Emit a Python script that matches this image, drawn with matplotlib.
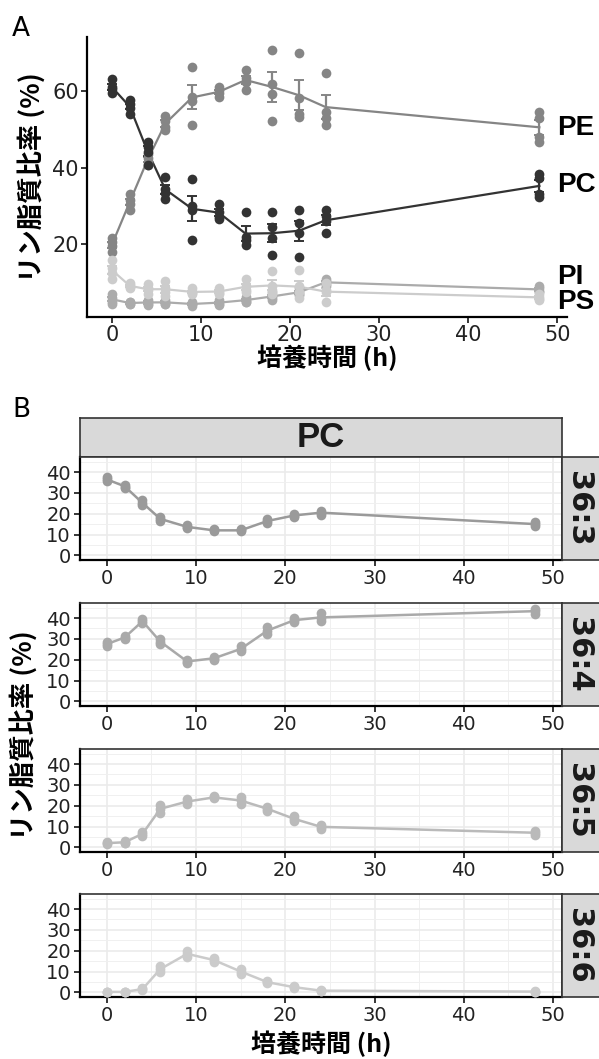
import numpy as np
import matplotlib.pyplot as plt
from matplotlib.ticker import MultipleLocator

# figure size in pixels (dpi = 100)
W, H = 599, 1059

# sampling times (h)
hours = [0, 2, 4, 6, 9, 12, 15, 18, 21, 24, 48]

# Panel A: phospholipid ratio (%), 4 replicates per time point
pe_vals = [[21.5, 20.5, 19.5, 18.0], [33.2, 31.5, 30.5, 28.9], [43.5, 42.5, 41.5, 40.6],
           [53.6, 52.3, 50.5, 49.7], [66.3, 58.5, 57.5, 51.0], [61.0, 60.2, 59.5, 58.4],
           [65.4, 63.5, 62.4, 60.2], [70.8, 61.9, 59.3, 52.2], [70.0, 58.3, 54.1, 53.2],
           [64.7, 54.5, 53.0, 51.0], [54.5, 53.0, 48.0, 46.6]]
pc_vals = [[63.2, 61.0, 60.4, 59.5], [57.6, 56.5, 55.5, 54.1], [46.7, 45.5, 44.0, 40.8],
           [37.5, 34.5, 33.5, 31.7], [37.0, 30.0, 29.0, 21.0], [30.6, 28.5, 27.2, 26.7],
           [28.4, 22.0, 21.0, 19.7], [28.4, 24.5, 21.5, 17.1], [28.9, 25.5, 23.0, 16.7],
           [28.9, 27.3, 26.0, 22.8], [38.4, 37.2, 33.0, 32.3]]
pi_vals = [[7.0, 6.0, 5.0, 4.5], [5.0, 4.8, 4.5, 4.3], [5.5, 5.0, 4.5, 4.2],
           [5.5, 5.0, 4.5, 4.3], [4.8, 4.5, 4.3, 4.0], [5.5, 4.8, 4.5, 4.2],
           [6.3, 5.5, 5.0, 4.8], [7.5, 6.5, 6.0, 5.5], [8.5, 7.5, 7.0, 6.8],
           [11.0, 10.5, 9.5, 9.2], [9.0, 8.5, 7.8, 7.5]]
ps_vals = [[16.0, 13.7, 12.5, 10.8], [10.0, 9.3, 8.8, 8.5], [9.5, 8.5, 8.0, 7.0],
           [10.5, 8.5, 7.5, 6.5], [8.5, 7.5, 7.2, 7.0], [8.5, 7.8, 7.3, 7.0],
           [11.0, 9.0, 8.0, 7.5], [13.0, 9.0, 8.0, 7.0], [13.2, 9.0, 7.5, 6.0],
           [10.0, 8.0, 7.5, 5.0], [7.0, 6.2, 5.8, 5.5]]

lipids = ['PE', 'PC', 'PI', 'PS']
lipid_data = [pe_vals, pc_vals, pi_vals, ps_vals]
lipid_colors = ['#858585', '#333333', '#ababab', '#cccccc']
label_y = [50.3, 35.4, 11.4, 4.9]

# Panel B: PC molecular species (%), 3 replicates per time point
sp_363 = [[37.5, 36.5, 35.5], [34.0, 33.0, 32.5], [26.5, 25.0, 24.0], [18.5, 17.5, 16.5],
          [14.5, 13.5, 13.0], [12.5, 12.0, 11.5], [12.5, 12.0, 11.5], [17.5, 16.5, 15.5],
          [20.0, 19.0, 18.5], [21.5, 20.5, 19.5], [16.0, 15.0, 14.0]]
sp_364 = [[28.5, 27.5, 26.5], [31.5, 30.5, 30.0], [39.5, 38.5, 37.5], [30.0, 28.5, 27.5],
          [20.0, 19.0, 18.5], [21.5, 20.5, 20.0], [26.5, 25.0, 24.0], [35.5, 34.0, 32.5],
          [40.0, 39.0, 38.0], [42.5, 40.0, 38.5], [44.5, 43.5, 42.0]]
sp_365 = [[2.5, 2.0, 1.5], [3.0, 2.3, 2.0], [7.5, 6.5, 5.5], [20.5, 18.5, 16.5],
          [23.0, 22.0, 21.0], [24.5, 24.0, 23.5], [24.0, 22.5, 21.0], [19.5, 18.5, 17.5],
          [15.0, 13.5, 12.5], [10.5, 10.0, 9.0], [8.0, 7.0, 6.0]]
sp_366 = [[0.3, 0.2, 0.1], [0.3, 0.2, 0.1], [2.0, 1.5, 1.2], [12.5, 11.0, 10.0],
          [20.0, 18.5, 17.0], [16.5, 15.5, 14.5], [11.0, 10.0, 9.0], [5.5, 4.8, 4.3],
          [3.0, 2.4, 2.0], [1.0, 0.8, 0.6], [0.5, 0.3, 0.2]]

species = ['36:3', '36:4', '36:5', '36:6']
species_data = [sp_363, sp_364, sp_365, sp_366]
species_colors = ['#9a9a9a', '#a9a9a9', '#bababa', '#cbcbcb']

jp_font = ['Noto Sans CJK JP', 'DejaVu Sans']
plt.rcParams['font.family'] = ['DejaVu Sans', 'Noto Sans CJK JP']


def rect(l, t, r, b):
    # pixel box -> figure fraction
    return [l / W, 1 - b / H, (r - l) / W, (b - t) / H]


fig = plt.figure(figsize=(W / 100, H / 100), dpi=100)

# ---------------- Panel A ----------------
axA = fig.add_axes(rect(87, 37, 567, 317))
t = np.array(hours)
for name, vals, col in zip(lipids, lipid_data, lipid_colors):
    reps = np.array(vals)
    n = reps.shape[1]
    mean = reps.mean(axis=1)
    se = reps.std(axis=1, ddof=1) / np.sqrt(n)
    axA.plot(np.repeat(t, n), reps.ravel(), 'o', ms=7, color=col, mec='none', zorder=3)
    axA.errorbar(t, mean, yerr=se, color=col, lw=1.6, capsize=3.5, capthick=1.4, zorder=2)

for name, y in zip(lipids, label_y):
    axA.text(50.0, y, name, fontsize=20, fontweight='bold', family='Liberation Sans',
             ha='left', va='center', clip_on=False)

axA.set_xlim(-2.8, 51.1)
axA.set_ylim(1.0, 74.1)
axA.set_xticks([0, 10, 20, 30, 40, 50])
axA.set_yticks([20, 40, 60])
for s in ['top', 'right']:
    axA.spines[s].set_visible(False)
for s in ['left', 'bottom']:
    axA.spines[s].set_linewidth(1.6)
axA.tick_params(length=4.5, width=1.1, pad=1.5, labelsize=15, labelcolor='#222222')

fig.text(32 / W, 1 - 177 / H, 'リン脂質比率 (%)', rotation=90, ha='center', va='center',
         fontsize=19, fontweight='bold', family=jp_font)
fig.text(327 / W, 1 - 358 / H, '培養時間 (h)', ha='center', va='center',
         fontsize=18, fontweight='bold', family=jp_font)
fig.text(12 / W, 1 - 29 / H, 'A', fontsize=19, ha='left', va='center')

# ---------------- Panel B ----------------
fig.text(12 / W, 1 - 410 / H, 'B', fontsize=19, ha='left', va='center')

top_strip = fig.add_axes(rect(80, 418, 562, 457))
top_strip.set_facecolor('#d9d9d9')
top_strip.set_xticks([])
top_strip.set_yticks([])
for s in top_strip.spines.values():
    s.set_color('#333333')
    s.set_linewidth(1.2)
top_strip.text(0.5, 0.5, 'PC', transform=top_strip.transAxes, ha='center', va='center',
               fontsize=25, fontweight='bold', family='Liberation Sans', color='#1a1a1a')

tops = [457, 603, 749, 894]
for top, name, vals, col in zip(tops, species, species_data, species_colors):
    ax = fig.add_axes(rect(80, top, 562, top + 103))
    reps = np.array(vals)
    n = reps.shape[1]
    ax.plot(t, reps.mean(axis=1), '-', color=col, lw=1.8, zorder=2)
    ax.plot(np.repeat(t, n), reps.ravel(), 'o', ms=7, color=col, mec='none', zorder=3)
    ax.set_xlim(-3.0, 51.0)
    ax.set_ylim(-2.25, 47.25)
    ax.set_xticks([0, 10, 20, 30, 40, 50])
    ax.set_yticks([0, 10, 20, 30, 40])
    ax.xaxis.set_minor_locator(MultipleLocator(5))
    ax.yaxis.set_minor_locator(MultipleLocator(5))
    ax.grid(which='major', color='#ebebeb', lw=1.2)
    ax.grid(which='minor', color='#f0f0f0', lw=0.7)
    ax.set_axisbelow(True)
    ax.tick_params(which='minor', length=0)
    ax.tick_params(which='major', length=4.5, width=1.1, pad=2, labelsize=14,
                   labelcolor='#222222')
    for s in ['left', 'bottom']:
        ax.spines[s].set_linewidth(1.6)
        ax.spines[s].set_color('black')
    for s in ['top', 'right']:
        ax.spines[s].set_linewidth(1.2)
        ax.spines[s].set_color('#333333')

    strip = fig.add_axes(rect(562, top, 615, top + 103))
    strip.set_facecolor('#d9d9d9')
    strip.set_xticks([])
    strip.set_yticks([])
    for s in strip.spines.values():
        s.set_color('#333333')
        s.set_linewidth(1.2)
    fig.text(579 / W, 1 - (top + 51.5) / H, name, rotation=-90, ha='center', va='center',
             fontsize=22, fontweight='bold', color='#1a1a1a')

fig.text(24 / W, 1 - 735 / H, 'リン脂質比率 (%)', rotation=90, ha='center', va='center',
         fontsize=19, fontweight='bold', family=jp_font)
fig.text(321 / W, 1 - 1044 / H, '培養時間 (h)', ha='center', va='center',
         fontsize=18, fontweight='bold', family=jp_font)

fig.savefig('out.png', dpi=100)
